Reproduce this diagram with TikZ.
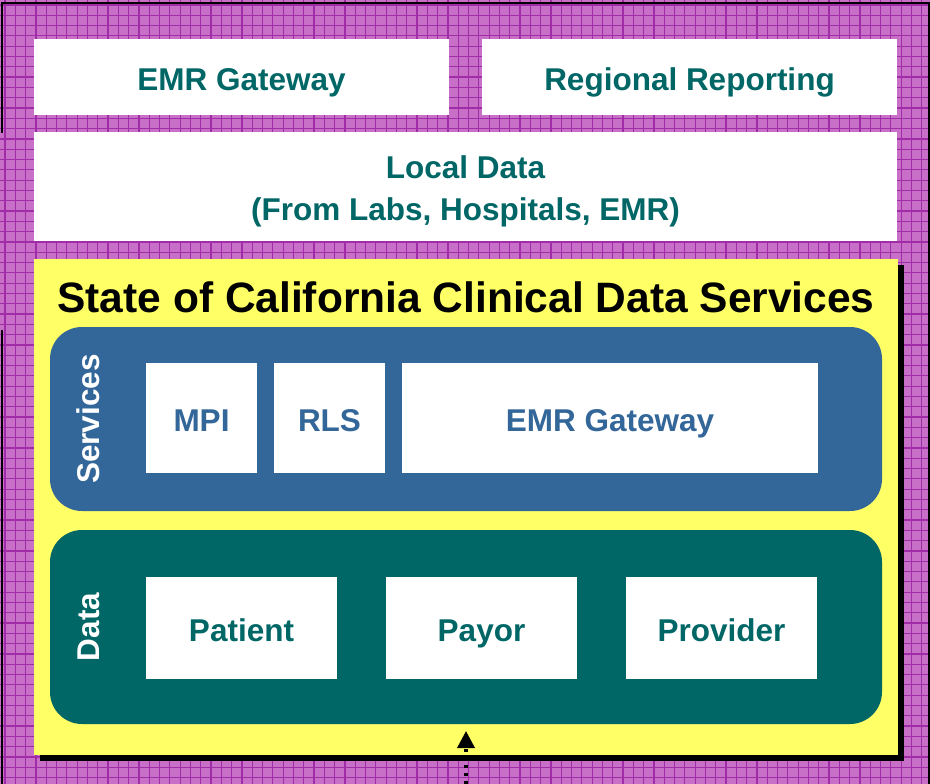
\documentclass[tikz,border=0pt]{standalone}
\usepackage{fontspec}
\setmainfont{Liberation Sans}
\usetikzlibrary{positioning, arrows.meta}

\definecolor{gridpink}{HTML}{C870C8}
\definecolor{gridline}{HTML}{A02CA8}
\definecolor{cdsyellow}{HTML}{FFFF66}
\definecolor{cdsblue}{HTML}{336699}
\definecolor{cdsteal}{HTML}{006666}

\newcommand{\boxfont}{\bfseries\fontsize{31.5}{40}\selectfont}
\newcommand{\titlefont}{\bfseries\fontsize{42.5}{50}\selectfont}

\begin{document}
\begin{tikzpicture}[x=1pt, y=-1pt,
    whitebox/.style={rectangle, fill=white, inner sep=0pt, outer sep=0pt, align=center, font=\boxfont, text height=26.6pt, text depth=0pt},
    panel/.style={rectangle, rounded corners=32pt, inner sep=0pt, outer sep=0pt, minimum width=832pt},
    sidelabel/.style={rotate=90, text=white, font=\boxfont, text height=22.6pt, text depth=0pt}]
    \useasboundingbox (0,0) rectangle (930,784);

    % Background grid
    \fill[gridpink] (0,0) rectangle (930,784);
    \foreach \gx in {5,15.3,...,930} \draw[gridline, line width=1.2pt] (\gx,0) -- (\gx,784);
    \foreach \gy in {5,15.3,...,784} \draw[gridline, line width=1.2pt] (0,\gy) -- (930,\gy);

    % Frame
    \draw[line width=2.5pt] (2,133) -- (2,3) -- (929,3) -- (929,784);
    \draw[line width=2.5pt] (2,330) -- (2,784);

    % Top boxes
    \node[whitebox, text=cdsteal, minimum width=415pt, minimum height=76pt] (emrtop) at (241.5,77) {EMR Gateway};
    \node[whitebox, text=cdsteal, minimum width=415pt, minimum height=76pt, right=33pt of emrtop] (regional) {Regional Reporting};

    % Local Data
    \node[rectangle, fill=white, inner sep=0pt, outer sep=0pt, minimum width=863pt, minimum height=109pt] (local) at (465.5,186.5) {};
    \node[font=\boxfont, text=cdsteal, align=center, inner sep=0pt] (localtext) at (465.5,191.5) {Local Data\\[1.5pt](From Labs, Hospitals, EMR)};

    % State of California Clinical Data Services
    \fill[black] (40,265) rectangle (904,761);
    \node[rectangle, fill=cdsyellow, inner sep=0pt, outer sep=0pt, minimum width=864pt, minimum height=496pt] (state) at (466,507) {};
    \node[font=\titlefont, inner sep=0pt] (title) at (466,297) {State of California Clinical Data Services};

    % Services
    \node[panel, fill=cdsblue, minimum height=184pt] (services) at (466,419) {};
    \node[sidelabel] (serviceslabel) at (88,419) {Services};
    \node[whitebox, text=cdsblue, minimum width=111pt, minimum height=110pt] (mpi) at (201.5,418) {MPI};
    \node[whitebox, text=cdsblue, minimum width=111pt, minimum height=110pt, right=17pt of mpi] (rls) {RLS};
    \node[whitebox, text=cdsblue, minimum width=416pt, minimum height=110pt, right=17pt of rls] (emrsvc) {EMR Gateway};

    % Data
    \node[panel, fill=cdsteal, minimum height=194pt] (data) at (466,627) {};
    \node[sidelabel] (datalabel) at (88,627) {Data};
    \node[whitebox, text=cdsteal, minimum width=191pt, minimum height=102pt] (patient) at (241.5,628) {Patient};
    \node[whitebox, text=cdsteal, minimum width=191pt, minimum height=102pt, right=49pt of patient] (payor) {Payor};
    \node[whitebox, text=cdsteal, minimum width=191pt, minimum height=102pt, right=49pt of payor] (provider) {Provider};

    % Incoming feed
    \coordinate (feed) at (466,784);
    \coordinate (feedtip) at (466,731);
    \draw[-{Triangle[length=17pt, width=17pt]}, line width=3.5pt, dash pattern=on 3.5pt off 4.5pt] (feed) -- (feedtip);
\end{tikzpicture}
\end{document}
